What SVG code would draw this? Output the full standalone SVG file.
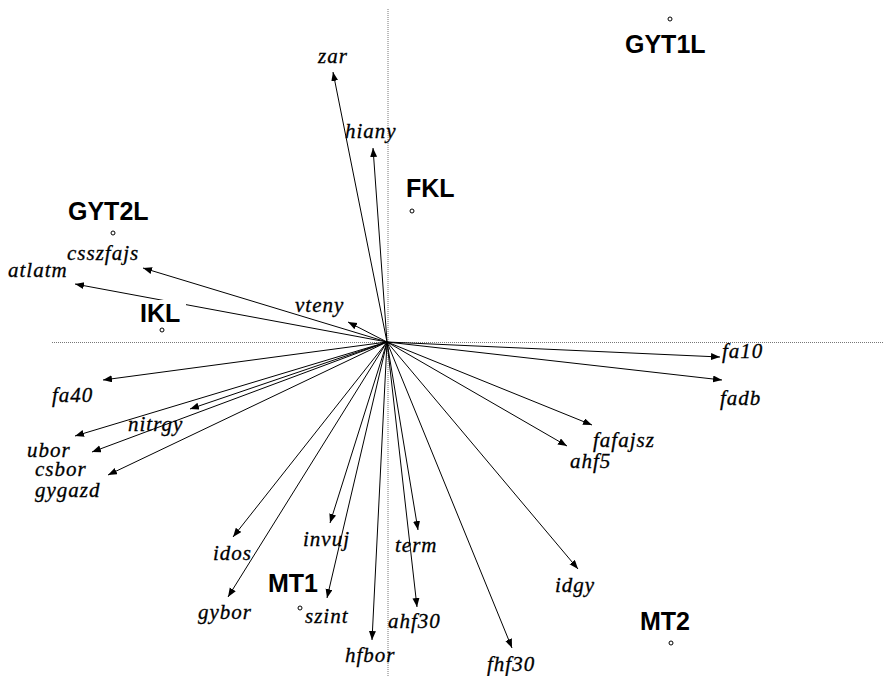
<svg xmlns="http://www.w3.org/2000/svg" width="884" height="676" viewBox="0 0 884 676">
<style>
.ax{stroke:#777;stroke-width:1;stroke-dasharray:1,1;fill:none}
.v{stroke:#000;stroke-width:1;fill:none;marker-end:url(#ah)}
.lb{font-family:"Liberation Serif","Times New Roman",serif;font-style:italic;font-size:21px;letter-spacing:1px;fill:#000;stroke:#000;stroke-width:0.3}
.gl{font-family:"Liberation Sans",Arial,sans-serif;font-weight:bold;font-size:25px;fill:#000}
.pt{fill:#fff;stroke:#000;stroke-width:1}
</style>
<defs>
<marker id="ah" markerUnits="userSpaceOnUse" markerWidth="10" markerHeight="8" refX="9" refY="3.5" orient="auto">
<path d="M0,0 L9,3.5 L0,7 z" fill="#000"/>
</marker>
</defs>
<rect width="884" height="676" fill="#fff"/>
<g id="axes">
<line class="ax" x1="388" y1="9" x2="388" y2="676"/>
<line class="ax" x1="52" y1="342.5" x2="884" y2="342.5"/>
</g>
<g id="connectors">
<line class="v" x1="387" y1="342" x2="333" y2="72"/>
<line class="v" x1="387" y1="342" x2="373" y2="148"/>
<line class="v" x1="387" y1="342" x2="143" y2="268"/>
<line class="v" x1="387" y1="342" x2="75" y2="284"/>
<line class="v" x1="387" y1="342" x2="348" y2="322"/>
<line class="v" x1="387" y1="342" x2="720" y2="357"/>
<line class="v" x1="387" y1="342" x2="722" y2="380"/>
<line class="v" x1="387" y1="342" x2="103" y2="380"/>
<line class="v" x1="387" y1="342" x2="190" y2="409"/>
<line class="v" x1="387" y1="342" x2="75" y2="436"/>
<line class="v" x1="387" y1="342" x2="92" y2="452"/>
<line class="v" x1="387" y1="342" x2="108" y2="475"/>
<line class="v" x1="387" y1="342" x2="592" y2="425"/>
<line class="v" x1="387" y1="342" x2="567" y2="446"/>
<line class="v" x1="387" y1="342" x2="233" y2="537"/>
<line class="v" x1="387" y1="342" x2="228" y2="597"/>
<line class="v" x1="387" y1="342" x2="330" y2="523"/>
<line class="v" x1="387" y1="342" x2="327" y2="598"/>
<line class="v" x1="387" y1="342" x2="372" y2="640"/>
<line class="v" x1="387" y1="342" x2="418" y2="530"/>
<line class="v" x1="387" y1="342" x2="417" y2="607"/>
<line class="v" x1="387" y1="342" x2="512" y2="648"/>
<line class="v" x1="387" y1="342" x2="578" y2="569"/>
</g>
<g id="labels">
<text class="lb" x="318" y="63">zar</text>
<text class="lb" x="345" y="138">hiany</text>
<text class="lb" x="67" y="260">csszfajs</text>
<text class="lb" x="8" y="277">atlatm</text>
<text class="lb" x="295" y="312">vteny</text>
<text class="lb" x="722" y="358">fa10</text>
<text class="lb" x="720" y="405">fadb</text>
<text class="lb" x="593" y="447">fafajsz</text>
<text class="lb" x="570" y="468">ahf5</text>
<text class="lb" x="52" y="402">fa40</text>
<text class="lb" x="128" y="431">nitrgy</text>
<text class="lb" x="27" y="457">ubor</text>
<text class="lb" x="35" y="476">csbor</text>
<text class="lb" x="35" y="497">gygazd</text>
<text class="lb" x="213" y="560">idos</text>
<text class="lb" x="198" y="619">gybor</text>
<text class="lb" x="303" y="546">invuj</text>
<text class="lb" x="305" y="623">szint</text>
<text class="lb" x="345" y="662">hfbor</text>
<text class="lb" x="395" y="552">term</text>
<text class="lb" x="388" y="628">ahf30</text>
<text class="lb" x="487" y="671">fhf30</text>
<text class="lb" x="555" y="592">idgy</text>
</g>
<g id="GYT1L"><circle class="pt" cx="670" cy="19" r="2"/><text class="gl" x="625" y="53">GYT1L</text></g>
<g id="GYT2L"><circle class="pt" cx="113" cy="233" r="2"/><text class="gl" x="68" y="220">GYT2L</text></g>
<g id="FKL"><circle class="pt" cx="412" cy="211" r="2"/><text class="gl" x="406" y="197">FKL</text></g>
<g id="IKL"><rect x="138" y="300" width="48" height="24" fill="#fff"/><circle class="pt" cx="162" cy="330" r="2"/><text class="gl" x="140" y="322">IKL</text></g>
<g id="MT1"><circle class="pt" cx="300" cy="608" r="2"/><text class="gl" x="268" y="592">MT1</text></g>
<g id="MT2"><circle class="pt" cx="671" cy="643" r="2"/><text class="gl" x="640" y="630">MT2</text></g>
</svg>
